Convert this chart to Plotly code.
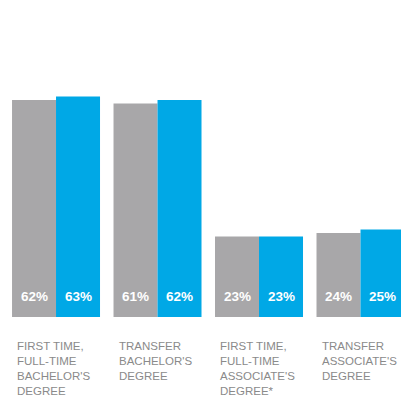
import plotly.graph_objects as go

categories = ["FIRST TIME,<br>FULL-TIME<br>BACHELOR'S<br>DEGREE",
              "TRANSFER<br>BACHELOR'S<br>DEGREE",
              "FIRST TIME,<br>FULL-TIME<br>ASSOCIATE'S<br>DEGREE*",
              "TRANSFER<br>ASSOCIATE'S<br>DEGREE"]
series_gray = [62, 61, 23, 24]
series_blue = [63, 62, 23, 25]

GRAY = "#a8a7a9"
BLUE = "#00a8e6"
FONT = "Liberation Sans, Arial, sans-serif"

x = list(range(len(categories)))
fig = go.Figure()
fig.add_bar(x=x, y=series_gray, marker_color=GRAY, marker_line_width=0, hoverinfo="skip")
fig.add_bar(x=x, y=series_blue, marker_color=BLUE, marker_line_width=0, hoverinfo="skip")

ann = []
for i in x:
    for vals, sh in ((series_gray, -22), (series_blue, 22)):
        ann.append(dict(x=i, y=0, xref="x", yref="y", text=f"<b>{vals[i]}%</b>",
                        showarrow=False, xshift=sh, yshift=21, yanchor="middle",
                        font=dict(color="white", size=13.5, family=FONT)))
    ann.append(dict(x=i, y=0, xref="x", yref="y", text=categories[i], showarrow=False,
                    xshift=-41, yshift=-21, xanchor="left", yanchor="top", align="left",
                    font=dict(color="#8a8a8a", size=11.5, family=FONT)))

fig.update_layout(
    width=401, height=403,
    margin=dict(l=0, r=0, t=0, b=86),
    paper_bgcolor="white", plot_bgcolor="white",
    barmode="group", bargap=0.133, bargroupgap=0,
    showlegend=False,
    xaxis=dict(range=[-0.552, 3.399], visible=False),
    yaxis=dict(range=[0, 90.6], visible=False),
    annotations=ann,
)
fig.write_html("out.html", config={"displayModeBar": False},
               post_script="document.body.style.margin='0';document.body.style.overflow='hidden';")
